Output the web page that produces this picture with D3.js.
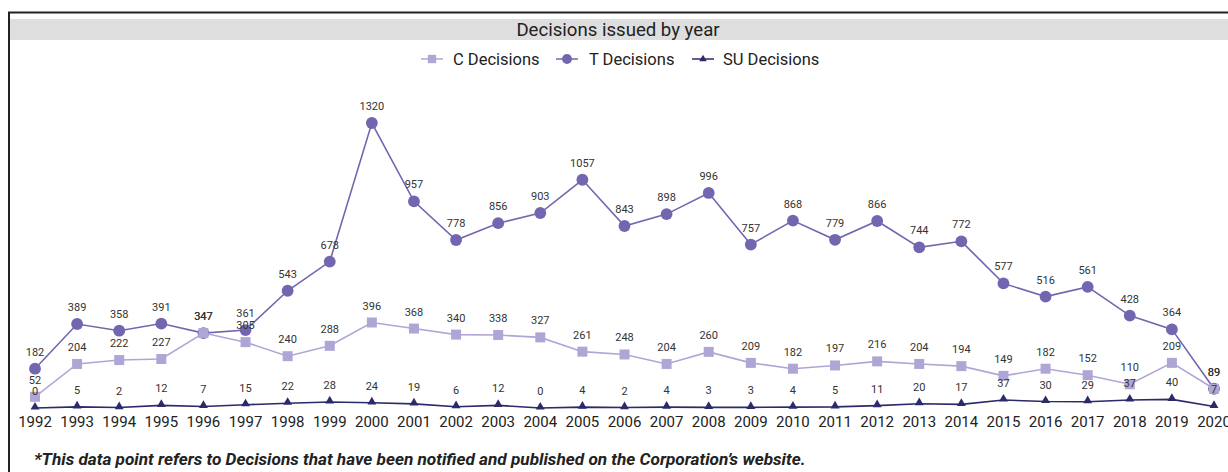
<!DOCTYPE html>
<html>
<head>
<meta charset="utf-8">
<script src="https://cdn.jsdelivr.net/npm/d3@7"></script>
<style>
  body { margin: 0; background: #fff; overflow: hidden; }
  svg text { font-family: Roboto, "Noto Sans", sans-serif; }
</style>
</head>
<body>
<svg id="chart" width="1228" height="472"></svg>
<script>
/* Daten */
const years = [1992,1993,1994,1995,1996,1997,1998,1999,2000,2001,2002,2003,2004,2005,2006,2007,2008,2009,2010,2011,2012,2013,2014,2015,2016,2017,2018,2019,2020];
const cDecisions = [52,204,222,227,347,305,240,288,396,368,340,338,327,261,248,204,260,209,182,197,216,204,194,149,182,152,110,209,89];
const tDecisions = [182,389,358,391,347,361,543,678,1320,957,778,856,903,1057,843,898,996,757,868,779,866,744,772,577,516,561,428,364,89];
const suDecisions = [0,5,2,12,7,15,22,28,24,19,6,12,0,4,2,4,3,3,4,5,11,20,17,37,30,29,37,40,7];
const seriesNames = ["C Decisions", "T Decisions", "SU Decisions"];

const svg = d3.select("#chart");

/* Rahmen und Titelband */
svg.append("rect").attr("x", 9).attr("y", 12.5).attr("width", 1240).attr("height", 480)
  .attr("fill", "none").attr("stroke", "#222").attr("stroke-width", 2);
svg.append("rect").attr("x", 10).attr("y", 19).attr("width", 1230).attr("height", 21).attr("fill", "#dedede");
svg.append("text").attr("x", 618).attr("y", 36).attr("text-anchor", "middle")
  .attr("font-size", 18.6).attr("fill", "#222").text("Decisions issued by year");

const x = d3.scaleLinear().domain([1992, 2020]).range([35, 1214]);
const y = d3.scaleLinear().domain([0, 1320]).range([408, 123]);

const series = [
  { name: seriesNames[0], values: cDecisions, color: "#afa6d6", symbol: d3.symbolSquare, size: 100 },
  { name: seriesNames[1], values: tDecisions, color: "#7366b0", symbol: d3.symbolCircle, size: 110 },
  { name: seriesNames[2], values: suDecisions, color: "#2b2a6b", symbol: d3.symbolTriangle, size: 34 }
];

/* Legende */
const legendPos = [{ mx: 432, tx: 453 }, { mx: 567, tx: 589 }, { mx: 703, tx: 723 }];
series.forEach((s, i) => {
  const lg = svg.append("g");
  const p = legendPos[i];
  lg.append("line").attr("x1", p.mx - 11).attr("x2", p.mx + 11).attr("y1", 59).attr("y2", 59)
    .attr("stroke", s.color).attr("stroke-width", 1.5);
  lg.append("path").attr("d", d3.symbol(s.symbol, s.size * 0.7)())
    .attr("transform", `translate(${p.mx},59)`).attr("fill", s.color);
  lg.append("text").attr("x", p.tx).attr("y", 65).attr("font-size", 16.5).attr("fill", "#222").text(s.name);
});

/* Linien, Punkte, Beschriftungen (T zuerst, dann C, dann SU) */
const drawOrder = [series[1], series[0], series[2]];
const line = d3.line().x((d, i) => x(years[i])).y(d => y(d));

drawOrder.forEach(s => {
  const g = svg.append("g");
  g.append("path").datum(s.values).attr("d", line)
    .attr("fill", "none").attr("stroke", s.color).attr("stroke-width", 1.6);
  g.selectAll("path.pt").data(s.values).enter().append("path").attr("class", "pt")
    .attr("d", d3.symbol(s.symbol, s.size)())
    .attr("transform", (d, i) => `translate(${x(years[i])},${y(d) - (s.symbol === d3.symbolTriangle ? 1 : 0)})`)
    .attr("fill", s.color);
});

drawOrder.forEach(s => {
  svg.append("g").selectAll("text").data(s.values).enter().append("text")
    .attr("x", (d, i) => x(years[i]))
    .attr("y", d => y(d) - 13)
    .attr("text-anchor", "middle").attr("font-size", 11).attr("fill", "#333")
    .text(d => d);
});

/* X-Achse */
svg.append("g").selectAll("text").data(years).enter().append("text")
  .attr("x", d => x(d)).attr("y", 427).attr("text-anchor", "middle")
  .attr("font-size", 15).attr("fill", "#222").text(d => d);

/* Fußnote */
svg.append("text").attr("x", 34).attr("y", 465).attr("font-size", 17.2)
  .attr("font-weight", "bold").attr("font-style", "italic").attr("fill", "#222")
  .text("*This data point refers to Decisions that have been notified and published on the Corporation\u2019s website.");
</script>
</body>
</html>
